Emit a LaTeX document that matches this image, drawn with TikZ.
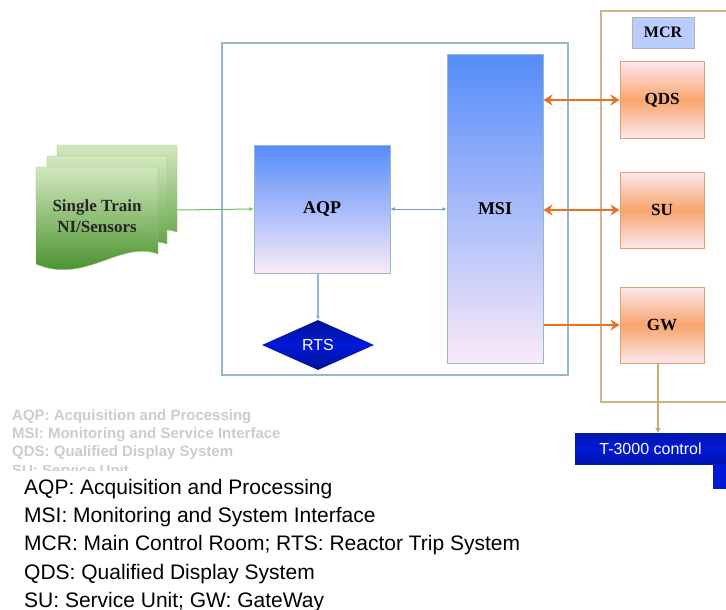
\documentclass[tikz,border=0pt]{standalone}
\usepackage{fontspec}
\setmainfont{Liberation Serif}
\newfontfamily\arialfont{Liberation Sans}
\usetikzlibrary{arrows.meta,shapes.geometric}

\definecolor{frameblue}{RGB}{150,185,200}
\definecolor{mcrtan}{RGB}{205,180,130}
\definecolor{linkorange}{RGB}{232,112,32}
\definecolor{boxblue}{RGB}{85,140,250}
\definecolor{boxpink}{RGB}{250,234,248}
\definecolor{trunkblue}{RGB}{0,25,215}
\definecolor{pagegreenlight}{RGB}{210,232,190}
\definecolor{pagegreendark}{RGB}{55,135,25}
\definecolor{pageedge}{RGB}{150,195,110}
\definecolor{unitorange}{RGB}{248,165,110}
\definecolor{unitpink}{RGB}{253,232,238}

\begin{document}
\begin{tikzpicture}[x=1pt,y=-1pt]
        \useasboundingbox (0,0) rectangle (726,610);

        % frames
        \draw[frameblue,line width=1.5pt] (222,43) rectangle (568,375);
        \draw[mcrtan,line width=1.5pt] (726,11) -- (601,11) -- (601,402) -- (726,402);

        % sensor pages
        \path[draw=pageedge,top color=pagegreenlight,bottom color=pagegreendark!75!pagegreenlight]
          (57,145) -- (177,145) -- (177,232) .. controls (150,222) and (120,250) .. (57,238) -- cycle;
        \path[draw=pageedge,top color=pagegreenlight,bottom color=pagegreendark!85!pagegreenlight]
          (47,156) -- (167,156) -- (167,244) .. controls (140,234) and (110,262) .. (47,250) -- cycle;
        \path[draw=pageedge,top color=pagegreenlight,bottom color=pagegreendark]
          (36,167) -- (158,167) -- (158,254) .. controls (120,240) and (85,285) .. (36,264) -- cycle;

        \begin{scope}[every node/.style={draw=frameblue,line width=1pt,inner sep=0pt,
            top color=boxblue,bottom color=boxpink,font=\fontsize{18}{18}\selectfont\bfseries}]
          \node[minimum width=136pt,minimum height=128pt] (aqp) at (322,209) {AQP};
          \node[minimum width=96pt,minimum height=308pt]  (msi) at (495,209) {MSI};
        \end{scope}

        \begin{scope}[every node/.style={draw=unitorange!80!brown,line width=1pt,inner sep=0pt,
            minimum width=84pt,minimum height=76pt,top color=unitpink,bottom color=unitpink,
            middle color=unitorange,font=\fontsize{17}{17}\selectfont\bfseries}]
          \node (qds) at (662,100) {QDS};
          \node (su)  at (662,210) {SU};
          \node (gw)  at (662,325) {GW};
        \end{scope}

        \node[draw=gray!60,fill={rgb,255:red,185;green,205;blue,255},inner sep=0pt,
          minimum width=62pt,minimum height=31pt,font=\fontsize{16}{16}\selectfont\bfseries]
          (mcr) at (663,32.5) {MCR};

        \node[align=center,font=\fontsize{17}{21}\selectfont\bfseries,text=black!85]
          (sens) at (97,216) {Single Train\\NI/Sensors};
        \coordinate (sensout) at (177,210);

        \node[diamond,aspect=2.3,minimum width=112pt,minimum height=50pt,inner sep=0pt,
          top color=trunkblue!70!black,bottom color=trunkblue!70!black,middle color=trunkblue,
          text=white,font=\arialfont\fontsize{16}{16}\selectfont] (rts) at (318,345) {RTS};

        \node[inner sep=0pt,minimum width=151pt,minimum height=31pt,
          top color=trunkblue!80!black,bottom color=trunkblue!80!black,middle color=trunkblue,
          text=white,font=\arialfont\fontsize{16}{16}\selectfont] (t3k) at (650.5,448.5) {T-3000 control};
        \fill[trunkblue] (713,464) rectangle (726,489);

        % connectors
        \draw[-{Latex[length=4pt,width=4pt]},green!60!black!60!white,line width=1pt] (sensout) -- (aqp.west);
        \draw[{Latex[length=4pt,width=4pt]}-{Latex[length=4pt,width=4pt]},frameblue!80!blue,line width=1pt]
          (aqp.east) -- (msi.west |- aqp.east);
        \draw[-{Latex[length=4pt,width=5pt]},frameblue,line width=1.2pt] (rts.north |- aqp.south) -- (rts.north);
        \begin{scope}[linkorange,line width=2.5pt]
          \draw[{Stealth[length=9pt,width=11pt]}-{Stealth[length=9pt,width=11pt]}] (msi.east |- qds.west) -- (qds.west);
          \draw[{Stealth[length=9pt,width=11pt]}-{Stealth[length=9pt,width=11pt]}] (msi.east |- su.west) -- (su.west);
          \draw[-{Stealth[length=9pt,width=11pt]}] (msi.east |- gw.west) -- (gw.west);
        \end{scope}
        \draw[mcrtan!80!brown,line width=1.5pt,-{Latex[length=5pt,width=6pt,fill=linkorange]}]
          (gw.south -| 658,0) -- (658,433);

        % faded legend
        \begin{scope}[every node/.style={anchor=base west,inner sep=0pt,text=gray!40,
            font=\arialfont\fontsize{15}{15}\selectfont\bfseries}]
          \node (fad1) at (12,420) {AQP: Acquisition and Processing};
          \node (fad2) at (12,438) {MSI: Monitoring and Service Interface};
          \node (fad3) at (12,456) {QDS: Qualified Display System};
          \begin{scope}
            \clip (0,465) rectangle (300,470);
            \node[text depth=0pt] (fad4) at (12,475) {SU: Service Unit};
          \end{scope}
        \end{scope}

        % caption
        \begin{scope}[every node/.style={anchor=base west,inner sep=0pt,
            font=\arialfont\fontsize{21}{21}\selectfont}]
          \node (cap1) at (24,494) {AQP: Acquisition and Processing};
          \node (cap2) at (24,522) {MSI: Monitoring and System Interface};
          \node (cap3) at (24,550.5) {MCR: Main Control Room; RTS: Reactor Trip System};
          \node (cap4) at (24,579) {QDS: Qualified Display System};
          \node (cap5) at (24,607) {SU: Service Unit; GW: GateWay};
        \end{scope}

      \end{tikzpicture}
\end{document}
